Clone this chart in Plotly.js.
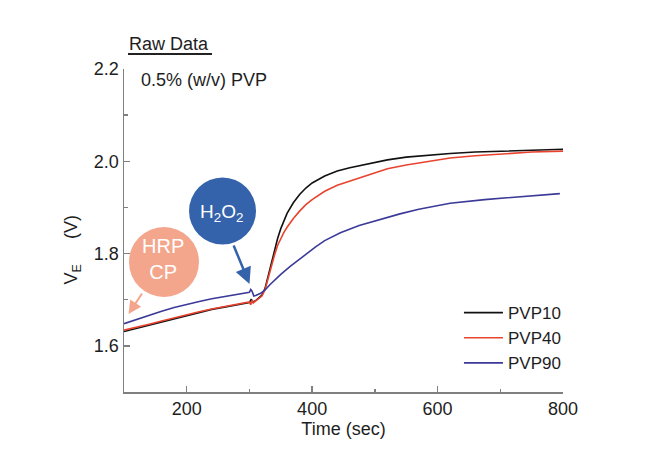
<!DOCTYPE html>
<html>
<head>
<meta charset="utf-8">
<script src="https://cdn.plot.ly/plotly-3.0.1.min.js"></script>
<style>html,body{margin:0;padding:0;background:#fff;}#chart{width:645px;height:458px;}</style>
</head>
<body>
<div id="chart"></div>
<script>
// ---- data ----
var seriesNames = ['PVP10', 'PVP40', 'PVP90'];

var timePVP10 = [100,120,140,160,180,200,220,240,260,280,295,300,303,305,310,315,320,325,330,335,340,345,350,355,360,370,380,390,400,420,440,460,480,500,520,550,580,620,660,700,750,800];
var vePVP10   = [1.631,1.638,1.645,1.652,1.659,1.666,1.673,1.679,1.684,1.689,1.692,1.694,1.701,1.695,1.698,1.703,1.710,1.725,1.752,1.780,1.808,1.833,1.854,1.872,1.887,1.910,1.928,1.942,1.953,1.968,1.979,1.986,1.992,1.998,2.003,2.009,2.013,2.017,2.020,2.022,2.024,2.026];

var timePVP40 = [100,120,140,160,180,200,220,240,260,280,295,300,302,304,306,310,315,320,325,330,335,340,345,350,355,360,370,380,390,400,420,440,460,480,500,520,550,580,620,660,700,750,800];
var vePVP40   = [1.634,1.640,1.647,1.654,1.661,1.667,1.674,1.680,1.685,1.690,1.694,1.695,1.689,1.699,1.693,1.697,1.702,1.708,1.722,1.748,1.768,1.797,1.818,1.833,1.846,1.857,1.876,1.892,1.906,1.917,1.935,1.948,1.957,1.967,1.976,1.984,1.992,1.999,2.007,2.012,2.016,2.020,2.022];

var timePVP90 = [100,120,140,160,180,200,220,240,260,280,295,300,302,304,307,310,318,325,333,340,350,365,380,392,405,420,445,475,510,540,570,620,675,730,795];
var vePVP90   = [1.648,1.657,1.667,1.675,1.683,1.690,1.696,1.702,1.707,1.711,1.715,1.716,1.722,1.719,1.708,1.709,1.714,1.721,1.733,1.742,1.755,1.772,1.788,1.801,1.814,1.828,1.845,1.861,1.875,1.886,1.896,1.909,1.917,1.923,1.930];

var xTickVals = [200, 400, 600, 800];
var yTickVals = [1.6, 1.8, 2.0, 2.2];

// ---- styling ----
var lineColors = ['#111111', '#e8432f', '#3b3a98'];
var axisGray = '#808080';
var textColor = '#1e1e1e';
var fontFamily = 'Arial, "Liberation Sans", sans-serif';
var nb = '\u00A0';

var traces = [
  {x: timePVP10, y: vePVP10, name: seriesNames[0]},
  {x: timePVP40, y: vePVP40, name: seriesNames[1]},
  {x: timePVP90, y: vePVP90, name: seriesNames[2]}
].map(function (t, i) {
  t.type = 'scatter';
  t.mode = 'lines';
  t.line = {color: lineColors[i], width: 1.6};
  return t;
});

var layout = {
  width: 645,
  height: 458,
  margin: {l: 124, r: 82, t: 69, b: 66, pad: 0},
  paper_bgcolor: '#ffffff',
  plot_bgcolor: '#ffffff',
  font: {family: fontFamily, size: 18, color: textColor},
  showlegend: true,
  legend: {
    x: 0.763, xanchor: 'left',
    y: 0.30, yanchor: 'top',
    bgcolor: 'rgba(0,0,0,0)',
    itemwidth: 39,
    font: {family: fontFamily, size: 17, color: textColor},
    tracegroupgap: 0
  },
  xaxis: {
    range: [100, 800],
    tickvals: xTickVals,
    ticks: 'inside',
    ticklen: 6,
    tickwidth: 1.3,
    tickcolor: axisGray,
    showline: true,
    linecolor: axisGray,
    linewidth: 1.5,
    showgrid: false,
    zeroline: false,
    tickfont: {family: fontFamily, size: 18, color: textColor},
    minor: {dtick: 100, tick0: 0, ticks: 'inside', ticklen: 3, tickwidth: 1.3, tickcolor: axisGray, showgrid: false},
    title: {text: 'Time (sec)', font: {family: fontFamily, size: 18, color: textColor}, standoff: 4}
  },
  yaxis: {
    range: [1.5, 2.2],
    tickvals: yTickVals,
    tickformat: '.1f',
    ticks: 'inside',
    ticklen: 6,
    tickwidth: 1.3,
    tickcolor: axisGray,
    showline: true,
    linecolor: axisGray,
    linewidth: 1.5,
    showgrid: false,
    zeroline: false,
    tickfont: {family: fontFamily, size: 18, color: textColor},
    minor: {dtick: 0.1, tick0: 0, ticks: 'inside', ticklen: 4, tickwidth: 1.3, tickcolor: axisGray, showgrid: false}
  },
  shapes: [
    // underline of "Raw Data"
    {type: 'line', xref: 'paper', yref: 'paper', x0: 0.0091, x1: 0.2005, y0: 1.0464, y1: 1.0464,
     line: {color: '#222222', width: 2}},
    // HRP CP bubble
    {type: 'circle', xref: 'paper', yref: 'paper', x0: 0.0114, x1: 0.1708, y0: 0.2941, y1: 0.5108,
     fillcolor: '#f4a68c', line: {width: 0}, layer: 'above'},
    // H2O2 bubble
    {type: 'circle', xref: 'paper', yref: 'paper', x0: 0.1481, x1: 0.3007, y0: 0.4567, y1: 0.6641,
     fillcolor: '#3563ab', line: {width: 0}, layer: 'above'}
  ],
  annotations: [
    // y-axis title (placed lower than the axis centre, as in the reference)
    {text: 'V<sub>E</sub>' + nb + nb + nb + nb + nb + '(V)', xref: 'paper', yref: 'paper',
     x: -0.117, y: 0.44, xanchor: 'center', yanchor: 'middle', textangle: -90,
     showarrow: false, font: {family: fontFamily, size: 18, color: textColor}},
    {text: 'Raw Data', xref: 'paper', yref: 'paper', x: 0.1025, y: 1.0774, xanchor: 'center', yanchor: 'middle',
     showarrow: false, font: {family: fontFamily, size: 18, color: textColor}},
    {text: '0.5% (w/v) PVP', xref: 'paper', yref: 'paper', x: 0.0342, y: 0.9659, xanchor: 'left', yanchor: 'middle',
     showarrow: false, font: {family: fontFamily, size: 18, color: textColor}},
    {text: 'H<sub>2</sub>O<sub>2</sub>', xref: 'paper', yref: 'paper', x: 0.2232, y: 0.555, xanchor: 'center', yanchor: 'middle',
     showarrow: false, font: {family: fontFamily, size: 19, color: '#ffffff'}},
    {text: 'HRP<br>CP', xref: 'paper', yref: 'paper', x: 0.0888, y: 0.4133, xanchor: 'center', yanchor: 'middle',
     showarrow: false, font: {family: fontFamily, size: 20, color: '#ffffff'}},
    // arrows
    {text: '', xref: 'paper', yref: 'paper', x: 0.2859, y: 0.3344, ax: -16.5, ay: -40,
     showarrow: true, arrowhead: 2, arrowsize: 1.3, arrowwidth: 2.5, arrowcolor: '#3563ab'},
    {text: '', xref: 'paper', yref: 'paper', x: 0.0103, y: 0.2415, ax: 14.5, ay: -22,
     showarrow: true, arrowhead: 2, arrowsize: 1.3, arrowwidth: 2, arrowcolor: '#f4a68c'}
  ]
};

Plotly.newPlot('chart', traces, layout, {displayModeBar: false, staticPlot: true});
</script>
</body>
</html>
